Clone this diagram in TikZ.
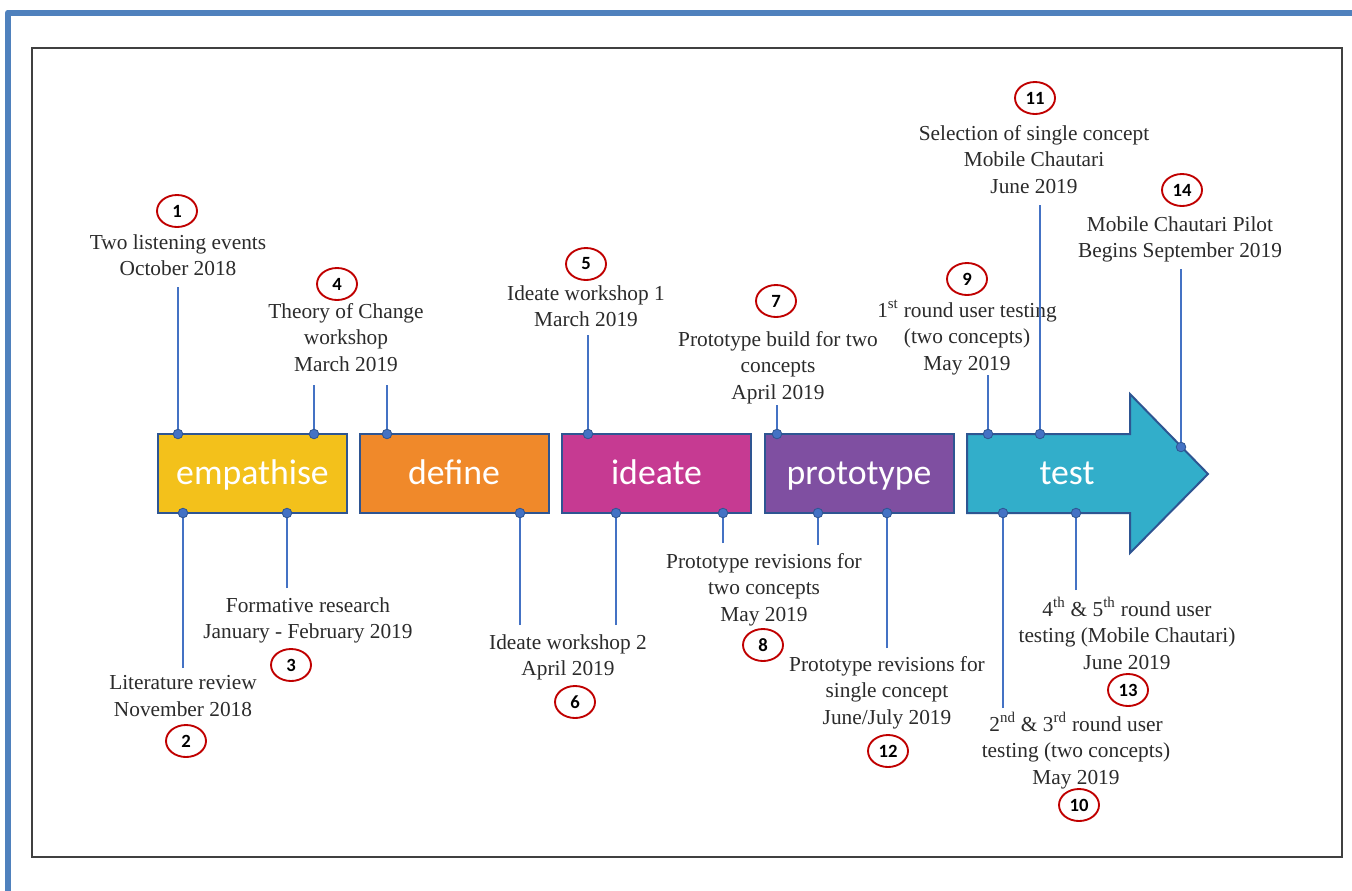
\documentclass[tikz,border=0pt]{standalone}
\usepackage{fontspec}
\setmainfont{Liberation Serif}
\newfontfamily\boxfont{Carlito}
\usetikzlibrary{shapes.geometric}

\definecolor{frameblue}{HTML}{4F81BD}
\definecolor{framegray}{HTML}{404040}
\definecolor{edgeblue}{HTML}{2E5592}
\definecolor{stemblue}{HTML}{4472C4}
\definecolor{numred}{HTML}{C00000}
\definecolor{txt}{HTML}{2B2B2B}
\definecolor{cEmp}{HTML}{F3C11B}
\definecolor{cDef}{HTML}{F0892A}
\definecolor{cIde}{HTML}{C63A92}
\definecolor{cPro}{HTML}{7F4FA1}
\definecolor{cTes}{HTML}{32AECA}

\tikzset{
  stagefont/.style={text=white, text height=20pt, text depth=2.8pt,
    font=\boxfont\fontsize{26.8}{29}\selectfont},
  stagebox/.style={draw=edgeblue, line width=1.5pt, inner sep=0pt,
    minimum width=141.75pt, minimum height=59.25pt, stagefont},
  stagetext/.style={inner sep=0pt, stagefont},
  lbl/.style={anchor=north, align=center, inner sep=0pt, text=txt,
    font=\fontsize{16}{20}\selectfont},
  num/.style={ellipse, draw=numred, line width=1.4pt, inner sep=0pt,
    minimum width=30pt, minimum height=24pt, text=black,
    font=\boxfont\bfseries\fontsize{14}{15}\selectfont},
  stem/.style={draw=stemblue, line width=1.4pt},
  dotmark/.style={fill=stemblue, draw=edgeblue, line width=0.6pt},
}

\begin{document}
\begin{tikzpicture}[x=0.75pt, y=-0.75pt]
\useasboundingbox (0,0) rectangle (1352,890);
\fill[white] (0,0) rectangle (1352,890);

% frames
\draw[frameblue, line width=4.5pt, line join=round] (8,895) -- (8,12.5) -- (1360,12.5);
\draw[framegray, line width=1.5pt] (32,48) rectangle (1342,857);

% stages
\node[stagebox, fill=cEmp] (emp) at (252.5,473.5) {empathise};
\node[stagebox, fill=cDef] (def) at (454,473.5) {define};
\node[stagebox, fill=cIde] (ide) at (656.5,473.5) {ideate};
\node[stagebox, fill=cPro] (pro) at (859,473.5) {prototype};
\draw[draw=edgeblue, line width=1.5pt, fill=cTes, line join=miter]
  (967,434) -- (1130,434) -- (1130,394) -- (1208,474) -- (1130,553) -- (1130,513) -- (967,513) -- cycle;
\node[stagetext] (tes) at (1067,473.5) {test};

% event labels
\node[lbl] (l1) at (178,234) {Two listening events\\October 2018};
\node[lbl] (l2) at (183,675) {Literature review\\November 2018};
\node[lbl] (l3) at (308,597) {Formative research\\January - February 2019};
\node[lbl] (l4) at (346,303) {Theory of Change\\workshop\\March 2019};
\node[lbl] (l5) at (586,285) {Ideate workshop 1\\March 2019};
\node[lbl] (l6) at (568,634) {Ideate workshop 2\\April 2019};
\node[lbl] (l7) at (778,331) {Prototype build for two\\concepts\\April 2019};
\node[lbl] (l8) at (764,553) {Prototype revisions for\\two concepts\\May 2019};
\node[lbl] (l9) at (967,300) {1\textsuperscript{st} round user testing\\(two concepts)\\May 2019};
\node[lbl] (l10) at (1076,712) {2\textsuperscript{nd} \& 3\textsuperscript{rd} round user\\testing (two concepts)\\May 2019};
\node[lbl] (l11) at (1034,125) {Selection of single concept\\Mobile Chautari\\June 2019};
\node[lbl] (l12) at (887,656) {Prototype revisions for\\single concept\\June/July 2019};
\node[lbl] (l13) at (1127,597) {4\textsuperscript{th} \& 5\textsuperscript{th} round user\\testing (Mobile Chautari)\\June 2019};
\node[lbl] (l14) at (1180,216) {Mobile Chautari Pilot\\Begins September 2019};

% numbers
\node[num] (n1) at (177,211) {1};
\node[num] (n2) at (186,741) {2};
\node[num] (n3) at (291,665) {3};
\node[num] (n4) at (337,284) {4};
\node[num] (n5) at (586,264) {5};
\node[num] (n6) at (575,702) {6};
\node[num] (n7) at (776,301) {7};
\node[num] (n8) at (763,645) {8};
\node[num] (n9) at (967,279) {9};
\node[num] (n10) at (1079,805) {10};
\node[num] (n11) at (1035,98) {11};
\node[num] (n12) at (888,751) {12};
\node[num] (n13) at (1128,690) {13};
\node[num] (n14) at (1182,190) {14};

% stem ends: free end (a) and attachment point on the stage (b)
\coordinate (s1a) at (178,287);   \coordinate (s1b) at (178,434);
\coordinate (s2a) at (183,668);   \coordinate (s2b) at (183,513);
\coordinate (s3a) at (287,588);   \coordinate (s3b) at (287,513);
\coordinate (s4a) at (314,385);   \coordinate (s4b) at (314,434);
\coordinate (s4c) at (387,385);   \coordinate (s4d) at (387,434);
\coordinate (s5a) at (588,335);   \coordinate (s5b) at (588,434);
\coordinate (s6a) at (520,625);   \coordinate (s6b) at (520,513);
\coordinate (s6c) at (616,625);   \coordinate (s6d) at (616,513);
\coordinate (s7a) at (777,405);   \coordinate (s7b) at (777,434);
\coordinate (s8a) at (723,543);   \coordinate (s8b) at (723,513);
\coordinate (s8c) at (818,545);   \coordinate (s8d) at (818,513);
\coordinate (s9a) at (988,375);   \coordinate (s9b) at (988,434);
\coordinate (s10a) at (1003,708); \coordinate (s10b) at (1003,513);
\coordinate (s11a) at (1040,205); \coordinate (s11b) at (1040,434);
\coordinate (s12a) at (887,648);  \coordinate (s12b) at (887,513);
\coordinate (s13a) at (1076,590); \coordinate (s13b) at (1076,513);
\coordinate (s14a) at (1181,269); \coordinate (s14b) at (1181,447);

\foreach \s/\e in {s1a/s1b, s2a/s2b, s3a/s3b, s4a/s4b, s4c/s4d, s5a/s5b,
                   s6a/s6b, s6c/s6d, s7a/s7b, s8a/s8b, s8c/s8d, s9a/s9b,
                   s10a/s10b, s11a/s11b, s12a/s12b, s13a/s13b, s14a/s14b}{
  \draw[stem] (\s) -- (\e);
  \draw[dotmark] (\e) circle[radius=4.8];
}
\end{tikzpicture}
\end{document}
